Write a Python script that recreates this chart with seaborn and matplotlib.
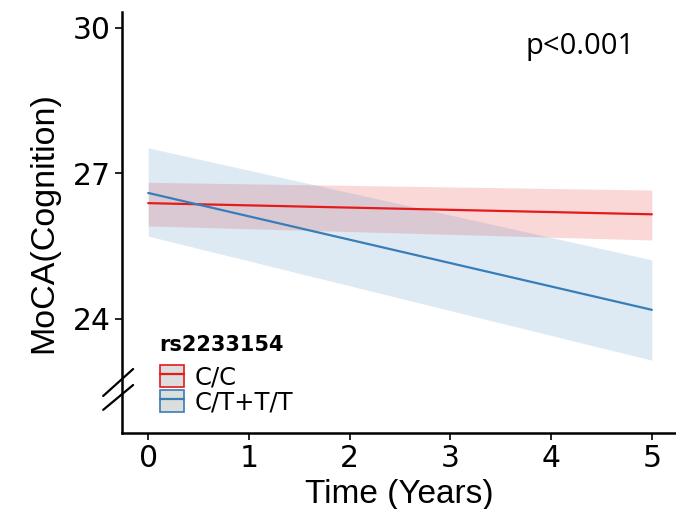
import numpy as np
import pandas as pd
import matplotlib
matplotlib.use("Agg")
import matplotlib.pyplot as plt
import seaborn as sns
from matplotlib.patches import Patch
from matplotlib.lines import Line2D
from matplotlib.legend_handler import HandlerTuple

# data (fitted lines with confidence bands)
time_years = [0, 5]
genotypes = ["C/C", "C/T+T/T"]
cc_fit = [26.38, 26.15]
cc_lower = [25.91, 25.62]
cc_upper = [26.81, 26.65]
ct_fit = [26.59, 24.18]
ct_lower = [25.70, 23.14]
ct_upper = [27.52, 25.21]
y_ticks = [24, 27, 30]
x_ticks = [0, 1, 2, 3, 4, 5]

red = "#E41A1C"
blue = "#377EB8"

sns.set_style("white")
plt.rcParams["font.family"] = ["DejaVu Sans"]
plt.rcParams["text.color"] = "black"
plt.rcParams["axes.labelcolor"] = "black"

df = pd.DataFrame({
    "time": time_years * 2,
    "moca": cc_fit + ct_fit,
    "geno": [genotypes[0]] * 2 + [genotypes[1]] * 2,
})

fig = plt.figure(figsize=(6.76, 5.09), dpi=100)
ax = fig.add_axes([0.1805, 0.1493, 0.8195, 0.8270])

ax.fill_between(time_years, cc_lower, cc_upper, color=red, alpha=0.17, linewidth=0)
ax.fill_between(time_years, ct_lower, ct_upper, color=blue, alpha=0.16, linewidth=0)
sns.lineplot(data=df, x="time", y="moca", hue="geno", hue_order=genotypes,
             palette=[red, blue], linewidth=1.6, legend=False, ax=ax)

ax.set_xlim(-0.26, 5.24)
ax.set_ylim(21.64, 30.32)
ax.set_xticks(x_ticks)
ax.set_yticks(y_ticks)
ax.tick_params(axis="both", labelsize=21.5, length=5, width=1.2, direction="out",
               colors="black", left=True, bottom=True, pad=3)
ax.set_xlabel("Time (Years)", fontsize=24, family="Liberation Sans", labelpad=4)
ax.set_ylabel("MoCA(Cognition)", fontsize=24.5, family="Liberation Sans", labelpad=10)
for s in ["top", "right"]:
    ax.spines[s].set_visible(False)
for s in ["left", "bottom"]:
    ax.spines[s].set_color("black")
    ax.spines[s].set_linewidth(1.8)

ax.text(4.29, 29.6, "p<0.001", fontsize=21, ha="center", va="center", family="Open Sans")

# axis break marks on the y axis
for y0, y1 in [(0.088, 0.152), (0.055, 0.114)]:
    ax.plot([-0.034, 0.02], [y0, y1], transform=ax.transAxes,
            color="black", lw=1.6, clip_on=False)

handles = [
    (Patch(facecolor="#dcdddd", edgecolor=red, linewidth=1.2), Line2D([], [], color=red, lw=1.6)),
    (Patch(facecolor="#dcdddd", edgecolor=blue, linewidth=1.2), Line2D([], [], color=blue, lw=1.6)),
]
leg = ax.legend(handles, genotypes, handler_map={tuple: HandlerTuple(ndivide=1, pad=0)},
                title="rs2233154", loc="upper left", bbox_to_anchor=(0.046, 0.262),
                frameon=False, fontsize=17.5, handlelength=1.0, handleheight=1.05,
                handletextpad=0.45, labelspacing=0.02, borderpad=0)
leg.get_title().set_fontweight("bold")
leg.get_title().set_fontsize(15)
leg._legend_box.align = "left"
leg._legend_box.sep = 7

fig.savefig("out.png", dpi=100)
